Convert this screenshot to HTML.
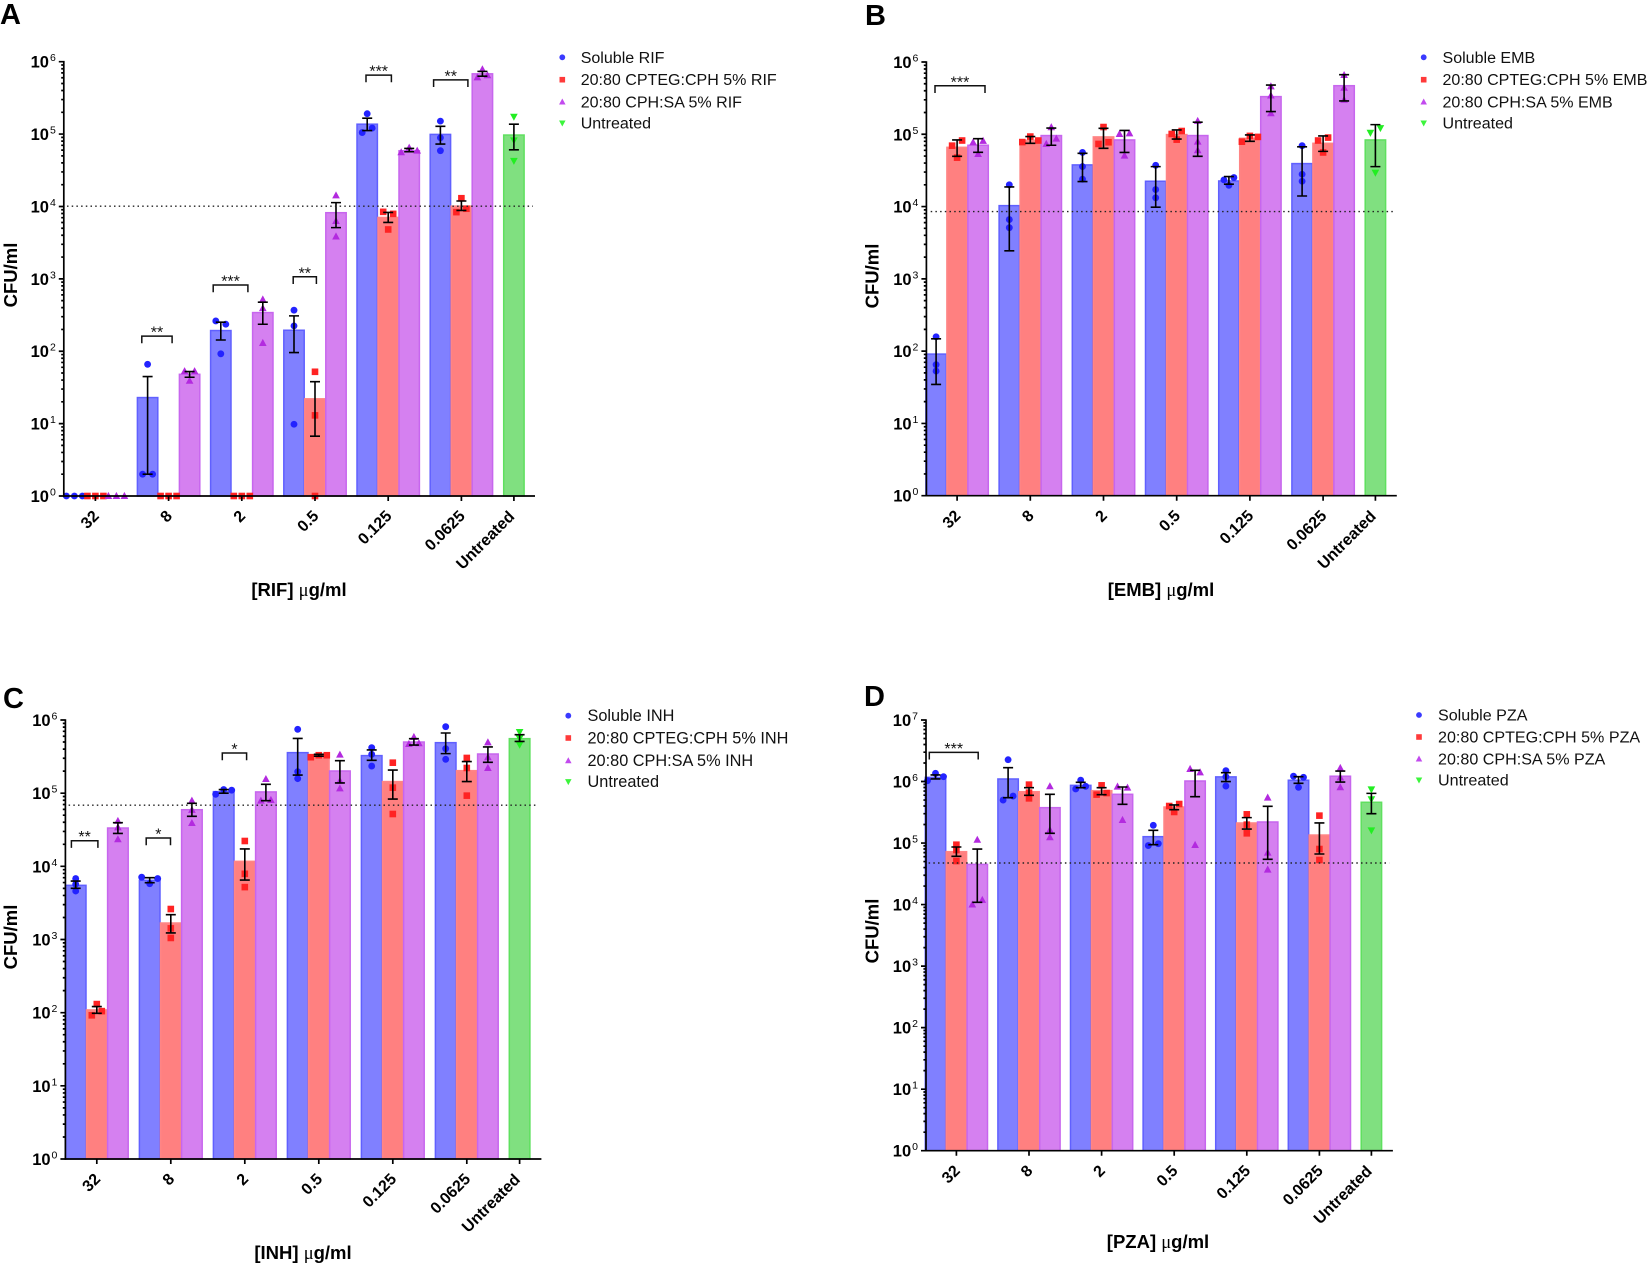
<!DOCTYPE html>
<html lang="en">
<head>
<meta charset="utf-8">
<title>CFU/ml dose response panels</title>
<style>
html,body{margin:0;padding:0;background:#fff;}
svg{display:block;font-family:"Liberation Sans",Arial,sans-serif;filter:blur(0.35px);}
</style>
</head>
<body>
<svg id="figure" xmlns="http://www.w3.org/2000/svg" width="1647" height="1263" viewBox="0 0 1647 1263"></svg>
<script>
const categories = ['32','8','2','0.5','0.125','0.0625'];
const untreatedLabel = 'Untreated';

/* Panel A: RIF */
const rifThreshold = 1.01e4;
const rifSolubleMean = [1, 22.9, 193, 195, 1.37e5, 9.9e4];
const rifSolubleHi = [1, 44.7, 252, 308, 1.66e5, 1.28e5];
const rifSolubleLo = [1, 2, 143, 96, 1.12e5, 7.28e4];
const rifSolublePts = [[1,1,1],[66,2,2],[236,262,92],[369,224,9.8],[1.91e5,1.21e5,1.05e5],[1.51e5,8.9e4,5.9e4]];
const rifCpteqMean = [1, 1, 1, 22, 7.05e3, 1.01e4];
const rifCpteqHi = [1, 1, 1, 38, 8.26e3, 1.19e4];
const rifCpteqLo = [1, 1, 1, 6.7, 6.01e3, 8.8e3];
const rifCpteqPts = [[1,1,1],[1,1,1],[1,1,1],[52,13,1],[7.9e3,8.43e3,4.81e3],[1.3e4,9.3e3,8.35e3]];
const rifSaMean = [1, 48, 342, 8.2e3, 5.89e4, 6.8e5];
const rifSaHi = [1, 52.3, 476, 1.13e4, 6.34e4, 7.35e5];
const rifSaLo = [1, 43.7, 236, 5.1e3, 5.7e4, 6.3e5];
const rifSaPts = [[1,1,1],[53,53,39],[518,393,130],[1.42e4,6.3e3,3.85e3],[6.47e4,5.9e4,5.6e4],[7.83e5,6.5e5,6.07e5]];
const rifUntreated = {mean:9.7e4, hi:1.37e5, lo:6.07e4};
const rifUntreatedPts = [1.74e5,8.2e4,4.27e4];

/* Panel B: EMB */
const embThreshold = 8.53e3;
const embSolubleMean = [91, 1.03e4, 3.77e4, 2.24e4, 2.26e4, 3.93e4];
const embSolubleHi = [148, 1.87e4, 5.46e4, 3.57e4, 2.6e4, 6.7e4];
const embSolubleLo = [34.6, 2.44e3, 2.22e4, 9.8e3, 2.04e4, 1.4e4];
const embSolublePts = [[158,65,53],[2e4,6.6e3,5.1e3],[5.6e4,3.57e4,2.39e4],[3.72e4,1.72e4,1.32e4],[1.97e4,2.52e4,2.34e4],[6.96e4,2.8e4,2.24e4]];
const embCpteqMean = [6.6e4, 8.25e4, 9.2e4, 9.9e4, 8.8e4, 7.5e4];
const embCpteqHi = [8.35e4, 9.3e4, 1.21e5, 1.15e5, 9.8e4, 9.5e4];
const embCpteqLo = [4.96e4, 7.5e4, 6.4e4, 8.6e4, 8e4, 5.8e4];
const embCpteqPts = [[8.2e4,6.96e4,4.75e4],[9.3e4,8.2e4,7.8e4],[1.26e5,7.75e4,7.35e4],[1.11e5,1.01e5,8.43e4],[9.5e4,9.2e4,7.9e4],[9e4,8.2e4,5.6e4]];
const embSaMean = [7.05e4, 9.6e4, 8.35e4, 9.6e4, 3.32e5, 4.7e5];
const embSaHi = [8.7e4, 1.22e5, 1.13e5, 1.47e5, 4.8e5, 6.68e5];
const embSaLo = [5.63e4, 7.05e4, 5.6e4, 4.96e4, 2.06e5, 2.89e5];
const embSaPts = [[8.1e4,7.75e4,5.34e4],[1.25e5,8.7e4,7.35e4],[1.03e5,1.01e5,5.07e4],[1.53e5,7.9e4,6e4],[4.6e5,3.43e5,1.95e5],[6.6e5,4.4e5,3e5]];
const embUntreated = {mean:8.35e4, hi:1.36e5, lo:3.57e4};
const embUntreatedPts = [1.22e5,1.05e5,2.95e4];

/* Panel C: INH */
const inhThreshold = 6.85e4;
const inhSolubleMean = [5.5e3, 6.44e3, 1.05e5, 3.58e5, 3.26e5, 4.9e5];
const inhSolubleHi = [6.3e3, 7e3, 1.12e5, 5.6e5, 3.9e5, 6.64e5];
const inhSolubleLo = [5e3, 5.98e3, 1e5, 1.77e5, 2.81e5, 3.47e5];
const inhSolublePts = [[6.8e3,5.7e3,4.6e3],[5.8e3,6.8e3,7.1e3],[1.12e5,1.1e5,9.65e4],[7.45e5,1.97e5,1.58e5],[4.19e5,3.4e5,2.35e5],[8.1e5,4.06e5,2.9e5]];
const inhCpteqMean = [109, 1.68e3, 1.17e4, 3.36e5, 1.44e5, 2.03e5];
const inhCpteqHi = [121, 2.18e3, 1.73e4, 3.4e5, 2.07e5, 2.7e5];
const inhCpteqLo = [98, 1.23e3, 6.5e3, 3.2e5, 8.3e4, 1.44e5];
const inhCpteqPts = [[131,105,92],[2.61e3,1.42e3,1.05e3],[2.22e4,7.9e3,5.2e3],[3.3e5,3.3e5,3.1e5],[2.61e5,1.19e5,5.19e4],[3.03e5,2.21e5,9.25e4]];
const inhSaMean = [3.34e4, 5.94e4, 1.04e5, 2.01e5, 5e5, 3.43e5];
const inhSaHi = [3.95e4, 7.26e4, 1.32e5, 2.78e5, 5.56e5, 4.28e5];
const inhSaLo = [2.82e4, 4.82e4, 7.9e4, 1.38e5, 4.55e5, 2.64e5];
const inhSaPts = [[4.17e4,3.41e4,2.34e4],[7.9e4,5.9e4,3.9e4],[1.56e5,8.07e4,7.9e4],[3.36e5,1.47e5,1.16e5],[5.86e5,4.8e5,4.7e5],[4.95e5,3.09e5,2.21e5]];
const inhUntreated = {mean:5.56e5, hi:6.3e5, lo:5.1e5};
const inhUntreatedPts = [6.85e5,5.6e5,4.6e5];

/* Panel D: PZA */
const pzaThreshold = 4.74e4;
const pzaSolubleMean = [1.17e6, 1.1e6, 8.67e5, 1.27e5, 1.19e6, 1.05e6];
const pzaSolubleHi = [1.28e6, 1.68e6, 9.7e5, 1.61e5, 1.39e6, 1.2e6];
const pzaSolubleLo = [1.1e6, 5.47e5, 7.94e5, 9.4e4, 1e6, 9.35e5];
const pzaSolublePts = [[1.36e6,1.2e6,1.03e6],[2.26e6,5.8e5,5e5],[1.05e6,8.36e5,7.57e5],[1.94e5,9.77e4,9.1e4],[1.5e6,1.2e6,8.45e5],[1.17e6,1.22e6,8.06e5]];
const pzaCpteqMean = [7.24e4, 6.84e5, 7.1e5, 3.85e5, 2.12e5, 1.35e5];
const pzaCpteqHi = [8.63e4, 7.94e5, 7.94e5, 4.16e5, 2.59e5, 2.12e5];
const pzaCpteqLo = [6.08e4, 5.97e5, 6.1e5, 3.49e5, 1.69e5, 6.64e4];
const pzaCpteqPts = [[9.4e4,7.7e4,5.1e4],[8.9e5,6.6e5,5.33e5],[8.67e5,6.5e5,6.13e5],[4.31e5,4e5,3.2e5],[2.93e5,1.99e5,1.44e5],[2.79e5,8e4,5.31e4]];
const pzaSaMean = [4.5e4, 3.76e5, 6.2e5, 1.02e6, 2.2e5, 1.22e6];
const pzaSaHi = [8e4, 6.2e5, 8.15e5, 1.52e6, 3.95e5, 1.48e6];
const pzaSaLo = [1.09e4, 1.44e5, 4.26e5, 5.67e5, 5.45e4, 9.8e5];
const pzaSaPts = [[1.13e5,1.19e4,1e4],[8.36e5,1.63e5,1.24e5],[7.94e5,8.26e5,2.37e5],[1.41e6,1.6e6,9.3e4],[5.47e5,6.98e4,3.7e4],[1.66e6,1.16e6,8.06e5]];
const pzaUntreated = {mean:4.6e5, hi:6.42e5, lo:3e5};
const pzaUntreatedPts = [7.46e5,5.15e5,1.61e5];

const NS = 'http://www.w3.org/2000/svg';
const root = document.getElementById('figure');
const COL = {
  blue:{fill:'#8080ff',edge:'#6060ff',mark:'#2323ff'},
  red:{fill:'#ff8080',edge:'#ff8585',mark:'#ff2323'},
  purple:{fill:'#d580f0',edge:'#c766ee',mark:'#b32adf'},
  green:{fill:'#80e080',edge:'#5fe05f',mark:'#22ee22'}
};

function make(tag, attrs, parent){
  const e = document.createElementNS(NS, tag);
  for (const k in attrs) e.setAttribute(k, attrs[k]);
  parent.appendChild(e);
  return e;
}

function drawMarker(g, kind, x, y, col, s){
  let el;
  if (kind === 'circle') el = make('circle', {cx:x, cy:y, r:s*0.52, fill:col}, g);
  else if (kind === 'square') el = make('rect', {x:x-s/2, y:y-s/2, width:s, height:s, fill:col}, g);
  else if (kind === 'up') el = make('polygon', {points:`${x},${y-s*0.62} ${x+s*0.58},${y+s*0.45} ${x-s*0.58},${y+s*0.45}`, fill:col}, g);
  else el = make('polygon', {points:`${x},${y+s*0.62} ${x+s*0.58},${y-s*0.45} ${x-s*0.58},${y-s*0.45}`, fill:col}, g);
  return el;
}

/* points that would overlap vertically are spread sideways; listing order picks the side */
function jitter(ys){
  const order = ys.map((y,i)=>({y,i})).sort((a,b)=>a.y-b.y);
  const out = new Array(ys.length).fill(0);
  let cluster = [order[0]];
  function flush(){
    const c = cluster.slice().sort((a,b)=>a.i-b.i);
    if (c.length === 2){ out[c[0].i] = 5; out[c[1].i] = -5; }
    else if (c.length >= 3){ out[c[0].i] = 0; out[c[1].i] = 8; out[c[2].i] = -8; }
  }
  for (let k=1;k<order.length;k++){
    if (order[k].y - order[k-1].y < 5.3) cluster.push(order[k]);
    else { flush(); cluster = [order[k]]; }
  }
  flush();
  return out;
}

function drawPanel(p){
  const g = make('g', {}, root);
  
  
  const decade = (p.yBase - p.yTop) / p.maxExp;
  const Y = v => p.yBase - Math.log10(v) * decade;
  const groupX = i => p.firstX + i * p.spacing;

  const letter = make('text', {x:p.letterX, y:p.letterY, 'font-size':29, 'font-weight':'bold', fill:'#000'}, g);
  letter.textContent = p.letter;
  
  

  const seriesList = [
    {key:'soluble', c:COL.blue, kind:'circle', off:-1, mean:p.solMean, hi:p.solHi, lo:p.solLo, pts:p.solPts},
    {key:'cpteg', c:COL.red, kind:'square', off:0, mean:p.cpMean, hi:p.cpHi, lo:p.cpLo, pts:p.cpPts},
    {key:'cphsa', c:COL.purple, kind:'up', off:1, mean:p.saMean, hi:p.saHi, lo:p.saLo, pts:p.saPts}
  ];
  const barsLayer = make('g', {}, g);
  const marksLayer = make('g', {}, g);
  const errLayer = make('g', {}, g);

  function plot(name, c, kind, cx, mean, hi, lo, pts){
    if (mean > 1){
      const r = make('rect', {x:cx-p.barW/2, y:Y(mean), width:p.barW, height:p.yBase-Y(mean), fill:c.fill, stroke:c.edge, 'stroke-width':1.5}, barsLayer);
      
      
    }
    const ys = pts.map(Y);
    const dx = jitter(ys);
    pts.forEach((v,j)=>{
      const m = drawMarker(marksLayer, kind, cx+dx[j], Y(v), c.mark, 6.6);
      
      
    });
    if (hi !== lo){
      const e = make('path', {d:`M${cx},${Y(hi)}V${Y(lo)}M${cx-5},${Y(hi)}H${cx+5}M${cx-5},${Y(lo)}H${cx+5}`, fill:'none', stroke:'#000', 'stroke-width':1.6}, errLayer);
      
      
    }
  }

  seriesList.forEach(s=>{
    categories.forEach((cat,i)=>{
      plot(s.key + '-' + cat, s.c, s.kind, groupX(i) + s.off * p.barStep, s.mean[i], s.hi[i], s.lo[i], s.pts[i]);
    });
  });
  plot('untreated', COL.green, 'down', p.untreatedX, p.untreated.mean, p.untreated.hi, p.untreated.lo, p.untreatedPts);

  const thr = make('line', {x1:p.dotFrom, x2:p.dotTo, y1:Y(p.threshold), y2:Y(p.threshold), stroke:'#222', 'stroke-width':1.4, 'stroke-dasharray':'1.5 3.2'}, g);
  
  

  const yAxis = make('g', {}, g);
  
  
  let d = `M${p.axisX},${p.yTop-0.8}V${p.yBase+0.8}`;
  for (let e=0;e<=p.maxExp;e++){
    d += `M${p.axisX-5},${Y(Math.pow(10,e))}H${p.axisX}`;
    if (e<p.maxExp) for (let m=2;m<=9;m++) d += `M${p.axisX-2.6},${Y(m*Math.pow(10,e))}H${p.axisX}`;
    const t = make('text', {x:p.axisX-8, y:Y(Math.pow(10,e))+6, 'text-anchor':'end', 'font-size':16.5, 'font-weight':'bold', fill:'#000'}, yAxis);
    
    
    t.appendChild(document.createTextNode('10'));
    const sup = make('tspan', {dy:-6.5, dx:1, 'font-size':10.5, 'font-weight':'normal'}, t);
    sup.textContent = String(e);
  }
  make('path', {d, fill:'none', stroke:'#000', 'stroke-width':1.7}, yAxis);

  const xAxis = make('g', {}, g);
  
  
  let dx = `M${p.axisX-0.8},${p.yBase}H${p.xEnd}`;
  const allLabels = categories.concat([untreatedLabel]);
  allLabels.forEach((lab,i)=>{
    const isGroup = i < categories.length;
    const tx = isGroup ? groupX(i) : p.untreatedX;
    dx += `M${tx},${p.yBase}v5`;
    const lx = tx + (isGroup ? 4.5 : 1.5), ly = p.yBase + (isGroup ? 21 : 21.5);
    const t = make('text', {x:lx, y:ly, 'text-anchor':'end', 'font-size':16, 'font-weight':'bold', fill:'#000', transform:`rotate(-45 ${lx} ${ly})`}, xAxis);
    t.textContent = lab;
    
    
  });
  make('path', {d:dx, fill:'none', stroke:'#000', 'stroke-width':1.7}, xAxis);

  const xt = make('text', {x:p.xTitleX, y:p.xTitleY, 'text-anchor':'middle', 'font-size':18.5, 'font-weight':'bold', fill:'#000'}, g);
  
  
  xt.appendChild(document.createTextNode('[' + p.drug + '] '));
  const mu = make('tspan', {'font-family':'"Liberation Serif",serif', 'font-weight':'normal'}, xt);
  mu.textContent = 'μ';
  xt.appendChild(document.createTextNode('g/ml'));

  const yt = make('text', {x:p.yTitleX, y:p.yTitleY, 'text-anchor':'middle', 'font-size':18.5, 'font-weight':'bold', fill:'#000', transform:`rotate(-90 ${p.yTitleX} ${p.yTitleY})`}, g);
  yt.textContent = 'CFU/ml';
  
  

  const legend = make('g', {}, g);
  
  
  const legendNames = ['Soluble ' + p.drug, '20:80 CPTEG:CPH 5% ' + p.drug, '20:80 CPH:SA 5% ' + p.drug, 'Untreated'];
  const legendMarks = [['circle',COL.blue],['square',COL.red],['up',COL.purple],['down',COL.green]];
  legendNames.forEach((nm,i)=>{
    const row = make('g', {}, legend);
    
    
    const colour = legendMarks[i][0]==='circle' ? '#3a3aff' : legendMarks[i][0]==='square' ? '#ff3a3a' : legendMarks[i][0]==='up' ? '#c24aee' : '#3cf53c';
    drawMarker(row, legendMarks[i][0], p.legendMarkX, p.legendY[i], colour, 5.6);
    const t = make('text', {x:p.legendTextX, y:p.legendY[i]+5.5, 'font-size':p.legendSize, fill:'#111'}, row);
    t.textContent = nm;
  });

  p.brackets.forEach(b=>{
    const cx = groupX(b.group);
    const x1 = cx + b.left, x2 = cx + b.right, y = Y(b.level);
    const gb = make('g', {}, g);
    
    
    make('path', {d:`M${x1},${y+7.2}V${y}H${x2}V${y+7.2}`, fill:'none', stroke:'#111', 'stroke-width':1.5}, gb);
    const s = make('text', {x:(x1+x2)/2, y:y+1.5, 'text-anchor':'middle', 'font-size':16, fill:'#111'}, gb);
    s.textContent = b.stars;
  });
}

drawPanel({
  letter:'A', drug:'RIF', letterX:0, letterY:24, axisX:63.8, xEnd:535, yTop:61.7, yBase:496, maxExp:6,
  firstX:95.4, spacing:73.2, untreatedX:513.9, barW:20.4, barStep:21,
  threshold:rifThreshold, dotFrom:67, dotTo:533,
  xTitleX:299, xTitleY:596, yTitleX:17, yTitleY:275,
  legendMarkX:562.3, legendTextX:580.7, legendY:[57.3,79.7,102,123], legendSize:16.05,
  solMean:rifSolubleMean, solHi:rifSolubleHi, solLo:rifSolubleLo, solPts:rifSolublePts,
  cpMean:rifCpteqMean, cpHi:rifCpteqHi, cpLo:rifCpteqLo, cpPts:rifCpteqPts,
  saMean:rifSaMean, saHi:rifSaHi, saLo:rifSaLo, saPts:rifSaPts,
  untreated:rifUntreated, untreatedPts:rifUntreatedPts,
  brackets:[
    {group:1,left:-26.8,right:3.5,level:162,stars:'**'},
    {group:2,left:-28.6,right:6.1,level:821,stars:'***'},
    {group:3,left:-21.8,right:1.4,level:1069,stars:'**'},
    {group:4,left:-22.2,right:3.2,level:6.53e5,stars:'***'},
    {group:5,left:-27.8,right:6.5,level:5.62e5,stars:'**'}
  ]
});

drawPanel({
  letter:'B', drug:'EMB', letterX:865, letterY:25, axisX:926.4, xEnd:1396.8, yTop:62, yBase:495.7, maxExp:6,
  firstX:957.1, spacing:73.2, untreatedX:1375.4, barW:20.4, barStep:21,
  threshold:embThreshold, dotFrom:930.7, dotTo:1394,
  xTitleX:1161, xTitleY:596, yTitleX:878.5, yTitleY:276,
  legendMarkX:1423.7, legendTextX:1442.5, legendY:[57.3,79.7,102,123], legendSize:16.05,
  solMean:embSolubleMean, solHi:embSolubleHi, solLo:embSolubleLo, solPts:embSolublePts,
  cpMean:embCpteqMean, cpHi:embCpteqHi, cpLo:embCpteqLo, cpPts:embCpteqPts,
  saMean:embSaMean, saHi:embSaHi, saLo:embSaLo, saPts:embSaPts,
  untreated:embUntreated, untreatedPts:embUntreatedPts,
  brackets:[{group:0,left:-22.1,right:27.9,level:4.69e5,stars:'***'}]
});

drawPanel({
  letter:'C', drug:'INH', letterX:3, letterY:708, axisX:65.4, xEnd:541.4, yTop:720, yBase:1159, maxExp:6,
  firstX:96.8, spacing:74, untreatedX:519.6, barW:20.6, barStep:21.1,
  threshold:inhThreshold, dotFrom:68.6, dotTo:538.2,
  xTitleX:303, xTitleY:1259, yTitleX:17, yTitleY:937,
  legendMarkX:568.3, legendTextX:587.5, legendY:[715.7,738,760.7,781.7], legendSize:16.3,
  solMean:inhSolubleMean, solHi:inhSolubleHi, solLo:inhSolubleLo, solPts:inhSolublePts,
  cpMean:inhCpteqMean, cpHi:inhCpteqHi, cpLo:inhCpteqLo, cpPts:inhCpteqPts,
  saMean:inhSaMean, saHi:inhSaHi, saLo:inhSaLo, saPts:inhSaPts,
  untreated:inhUntreated, untreatedPts:inhUntreatedPts,
  brackets:[
    {group:0,left:-25.4,right:1.1,level:2.24e4,stars:'**'},
    {group:1,left:-24.6,right:-0.3,level:2.44e4,stars:'*'},
    {group:2,left:-22.5,right:1.8,level:3.54e5,stars:'*'}
  ]
});

drawPanel({
  letter:'D', drug:'PZA', letterX:864, letterY:706, axisX:926, xEnd:1392.9, yTop:720, yBase:1150.7, maxExp:7,
  firstX:956.4, spacing:72.6, untreatedX:1371.4, barW:20.4, barStep:20.9,
  threshold:pzaThreshold, dotFrom:928.6, dotTo:1389.3,
  xTitleX:1158, xTitleY:1248, yTitleX:878.5, yTitleY:931,
  legendMarkX:1419, legendTextX:1438, legendY:[715,737,759,780], legendSize:16.1,
  solMean:pzaSolubleMean, solHi:pzaSolubleHi, solLo:pzaSolubleLo, solPts:pzaSolublePts,
  cpMean:pzaCpteqMean, cpHi:pzaCpteqHi, cpLo:pzaCpteqLo, cpPts:pzaCpteqPts,
  saMean:pzaSaMean, saHi:pzaSaHi, saLo:pzaSaLo, saPts:pzaSaPts,
  untreated:pzaUntreated, untreatedPts:pzaUntreatedPts,
  brackets:[{group:0,left:-27.1,right:21.8,level:2.98e6,stars:'***'}]
});
</script>
</body>
</html>
